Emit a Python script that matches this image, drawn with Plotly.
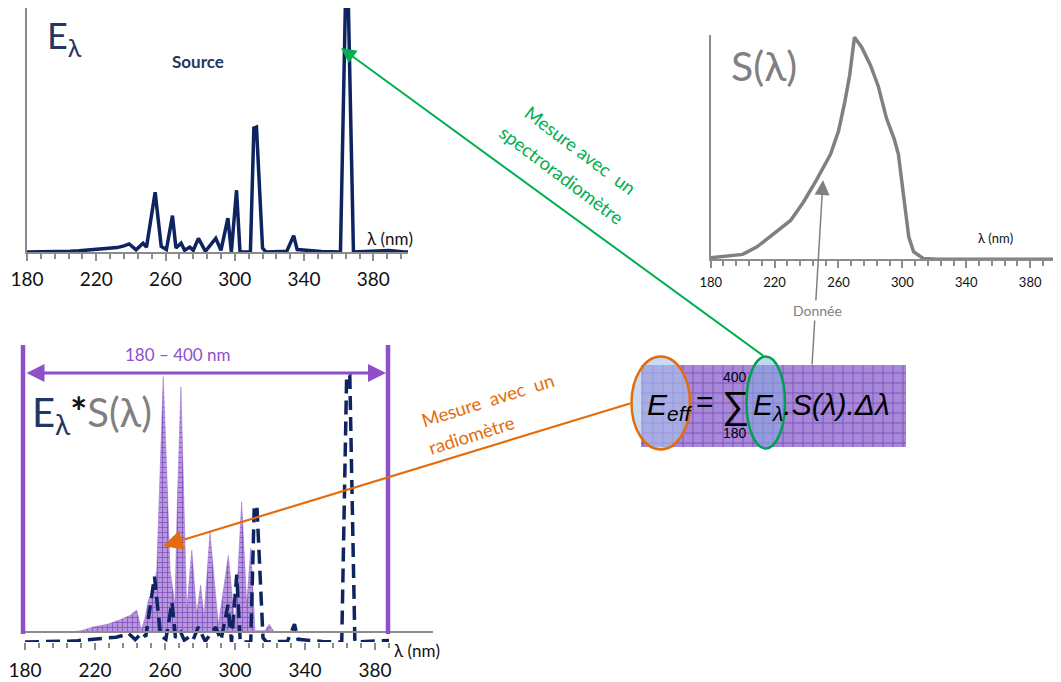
import plotly.graph_objects as go

# the page body adds an 8 px margin: draw in reference pixel coordinates shifted by it
OFF = 8
W, H = 1061 - OFF, 682 - OFF
def px(x):
    return (x - OFF) / W
def py(y):
    return 1 - (y - OFF) / H

# ---------------- data ----------------
tick_vals = [180, 220, 260, 300, 340, 380]
minor_vals = list(range(180, 401, 8))

# Source spectrum E(lambda)
src_wl = [180, 190, 200, 205, 210, 215, 220, 225, 228, 232, 236, 239, 243, 247, 249, 254, 257.5, 260.5,
          264, 266, 269, 271, 274, 276, 279, 283, 289, 292, 296, 298, 301, 303, 309, 311, 312.5, 316, 318,
          330, 334, 336, 350, 361, 363.8, 365.6, 368.5, 377, 380, 389, 398, 400]
src_E = [0, 0, 0.1, 0.3, 0.5, 0.8, 1.0, 1.1, 1.3, 1.8, 2.5, 3.3, 0.9, 3.6, 2.0, 24.5, 2.3, 1.0,
         14.9, 1.6, 3.6, 0.7, 2.0, 0.7, 5.6, 0.3, 5.6, 0.7, 13.9, 0, 25.3, 0, 0, 50.8, 51.2, 1.6, 0,
         0.3, 6.7, 1.0, 0.2, 0, 100, 100, 0, 0.2, 0.4, 0.6, 0, 0]

# Spectral sensitivity S(lambda)
sens_wl = [180, 200, 209, 220, 230, 238, 246, 255, 260, 264, 267, 270, 274.5, 280, 285, 290, 295,
           297.5, 300.5, 304, 307, 313, 321.5, 360, 400]
sens_S = [0.7, 2.2, 5.6, 11.6, 17.5, 25.7, 35.4, 47.3, 57.7, 71, 82.9, 100, 95.5, 87.4, 77.7, 63.6,
          53.9, 47.3, 29.4, 10.1, 3.4, 0.4, 0, 0, 0]

# Product E(lambda)*S(lambda)
prod_wl = [180, 205, 212, 219, 227, 234, 240, 243.8, 246.5, 248.6, 250.5, 253, 255.3, 257.1, 259.0,
           261.0, 262.9, 265.7, 267.0, 269.1, 270.9, 272.4, 275.3, 278.1, 280.4, 282.3, 285.7, 290.5,
           296.2, 300.0, 303.8, 306.7, 309.0, 311.4, 317, 319.6, 322.3, 330, 400]
prod_ES = [0, 0, 0.5, 2, 3, 4.7, 6.5, 8.6, 1, 5.5, 12.5, 16, 24.3, 63, 100, 63, 24, 11, 50, 96, 50,
           8.6, 32, 7.4, 18.4, 6, 39, 2.7, 30, 2, 51, 11, 32.8, 0.5, 0.5, 3, 0, 0, 0]

# ---------------- styles ----------------
NAVY = "#0D2461"
NAVY_T = "#1F3864"
GRAY = "#808080"
AXG = "#8C8C8C"
PURPLE = "#8E4FC8"
GREEN = "#00B050"
ORANGE = "#E46C0A"
FONT = "Lato, 'Open Sans', sans-serif"
FORMULA_FONT = "Liberation Sans, Arial, sans-serif"

fig = go.Figure()

fig.add_trace(go.Scatter(x=src_wl, y=src_E, mode="lines", xaxis="x", yaxis="y",
                         line=dict(color=NAVY, width=3.5), hoverinfo="skip"))
fig.add_trace(go.Scatter(x=sens_wl, y=sens_S, mode="lines", xaxis="x2", yaxis="y2",
                         line=dict(color=GRAY, width=3.5), hoverinfo="skip"))
fig.add_trace(go.Scatter(x=prod_wl, y=prod_ES, mode="lines", xaxis="x3", yaxis="y3",
                         fill="tozeroy", line=dict(color="#9A6BD0", width=0.5),
                         fillpattern=dict(shape="+", bgcolor="#B796DE", fgcolor="#7E52BE",
                                          size=5, solidity=0.3),
                         hoverinfo="skip"))
fig.add_trace(go.Scatter(x=src_wl, y=src_E, mode="lines", xaxis="x4", yaxis="y4",
                         line=dict(color=NAVY, width=3.5, dash="14px,7px"), hoverinfo="skip"))

# formula box (decoration, in a pixel-coordinate overlay)
box_x = [641, 906, 906, 641, 641]
box_y = [365, 365, 447, 447, 365]
fig.add_trace(go.Scatter(x=box_x, y=box_y, mode="lines", xaxis="x5", yaxis="y5",
                         fill="toself", line=dict(width=0),
                         fillpattern=dict(shape="+", bgcolor="#A888D8", fgcolor="#7A50BE",
                                          size=10, solidity=0.18),
                         hoverinfo="skip"))

def xax(domain, rng, size, show=True):
    d = dict(domain=domain, range=rng, showgrid=False, zeroline=False, fixedrange=True,
             automargin=False)
    if show:
        d.update(tickmode="array", tickvals=tick_vals, ticks="outside", ticklen=7,
                 tickwidth=1.5, tickcolor=AXG,
                 tickfont=dict(size=size, color="#111111", family=FONT),
                 minor=dict(tickmode="array", tickvals=minor_vals, ticks="outside",
                            ticklen=5, tickwidth=1.5, tickcolor=AXG, showgrid=False))
    else:
        d.update(visible=False)
    return d

def yax(domain, rng, line=False):
    return dict(domain=domain, range=rng, showgrid=False, zeroline=False, fixedrange=True,
                showticklabels=False, ticks="", showline=line, linecolor=AXG, linewidth=2,
                automargin=False)

fig.update_layout(
    template="none",
    width=W, height=H, autosize=False,
    margin=dict(l=0, r=0, t=0, b=0, pad=0),
    paper_bgcolor="white", plot_bgcolor="rgba(0,0,0,0)",
    showlegend=False,
    font=dict(family=FONT),
    xaxis=dict(**xax([px(27), px(408)], [180, 400], 19), anchor="y", showline=True,
               linecolor=AXG, linewidth=2, ticklabelstandoff=2),
    yaxis=dict(**yax([py(252), py(8)], [0, 100], True), anchor="x"),
    xaxis2=dict(**xax([px(710.7), 1.0], [180, 399.3], 13), anchor="y2", showline=True,
                linecolor=AXG, linewidth=2, ticklabelstandoff=3),
    yaxis2=dict(**yax([py(259.3), py(35)], [0, 101], True), anchor="x2"),
    xaxis3=dict(**xax([px(25), px(389)], [180, 388], 19, show=False), anchor="y3"),
    yaxis3=dict(**yax([py(632), py(370)], [0, 102.6]), anchor="x3", visible=False),
    xaxis4=dict(**xax([px(25), px(389)], [180, 388], 19), anchor="y4", showline=False,
                ticklabelstandoff=4),
    yaxis4=dict(**yax([py(642), py(370)], [0, 102]), anchor="x4", visible=False),
    xaxis5=dict(domain=[0, 1], range=[OFF, 1061], visible=False, fixedrange=True, anchor="y5",
                automargin=False),
    yaxis5=dict(domain=[0, 1], range=[682, OFF], visible=False, fixedrange=True, anchor="x5",
                automargin=False),
)

shapes = [
    dict(type="line", xref="paper", yref="paper", x0=px(25), x1=px(433), y0=py(632), y1=py(632),
         line=dict(color=AXG, width=2)),
    dict(type="line", xref="paper", yref="paper", x0=px(23), x1=px(23), y0=py(634), y1=py(345),
         line=dict(color=PURPLE, width=4.5)),
    dict(type="line", xref="paper", yref="paper", x0=px(388), x1=px(388), y0=py(634), y1=py(345),
         line=dict(color=PURPLE, width=4.5)),
    dict(type="circle", xref="paper", yref="paper", x0=px(631.5), x1=px(690), y0=py(449.5), y1=py(356.5),
         fillcolor="rgba(168,196,236,0.62)", line=dict(color=ORANGE, width=2.5)),
    dict(type="circle", xref="paper", yref="paper", x0=px(746.5), x1=px(785), y0=py(448.5), y1=py(356.5),
         fillcolor="rgba(130,175,225,0.5)", line=dict(color="#00A050", width=2.5)),
]
fig.update_layout(shapes=shapes)

ann = []
def arrow(tail, head, color, width, size, side="end"):
    ann.append(dict(xref="paper", yref="paper", x=px(head[0]), y=py(head[1]),
                    axref="pixel", ayref="pixel", ax=tail[0] - head[0], ay=tail[1] - head[1],
                    showarrow=True, arrowhead=2, arrowside=side, arrowsize=size,
                    arrowwidth=width, arrowcolor=color, text="", standoff=0, startstandoff=0))

def txt(x, y, text, size, color="#111111", family=FONT, xanchor="center", angle=0, bg=None):
    d = dict(xref="paper", yref="paper", x=px(x), y=py(y), text=text, showarrow=False,
             xanchor=xanchor, yanchor="middle", textangle=angle,
             font=dict(size=size, color=color, family=family))
    if bg:
        d["bgcolor"] = bg
    ann.append(d)

arrow((765, 357), (341, 48), GREEN, 2, 1.5)
arrow((631.5, 403), (163, 546), ORANGE, 2.2, 1.8)
arrow((812, 366), (823, 180), GRAY, 1.5, 2)
arrow((25, 373), (386, 373), PURPLE, 3, 1.2, side="end+start")

txt(45, 38, "E<sub>λ</sub>", 36, NAVY_T, xanchor="left")
txt(198, 62, "<b>Source</b>", 17, NAVY_T)
txt(390, 238, "λ (nm)", 17)
txt(764, 66, "S(λ)", 41, GRAY)
txt(995, 238, "λ (nm)", 13)
txt(817, 310, "Donnée", 14, GRAY, bg="white")
txt(178, 354, "180 – 400 nm", 17, PURPLE)
txt(30, 414, "<span style='color:#1F3864'>E<sub>λ</sub></span><span style='color:#111111'><b>*</b></span>"
             "<span style='color:#808080'>S(λ)</span>", 40, xanchor="left")
txt(417, 650, "λ (nm)", 17)

txt(580, 150, "Mesure avec  un", 18.5, GREEN, angle=37)
txt(561.5, 175, "spectroradiomètre", 18.5, GREEN, angle=37)
txt(488, 400, "Mesure  avec  un", 18.5, ORANGE, angle=-17.5)
txt(471.5, 435, "radiomètre", 18.5, ORANGE, angle=-17.5)

txt(645, 406, "<i>E<sub>eff</sub></i>", 30, "#000000", FORMULA_FONT, xanchor="left")
txt(705, 401, "=", 30, "#000000", FORMULA_FONT)
txt(735, 405, "∑", 38, "#000000", FORMULA_FONT)
txt(735, 377, "400", 14, "#000000", FORMULA_FONT)
txt(735, 433, "180", 14, "#000000", FORMULA_FONT)
txt(751, 406, "<i>E<sub>λ</sub>.S(λ).Δλ</i>", 30, "#000000", FORMULA_FONT, xanchor="left")

fig.update_layout(annotations=ann)

fig.write_html("out.html")
